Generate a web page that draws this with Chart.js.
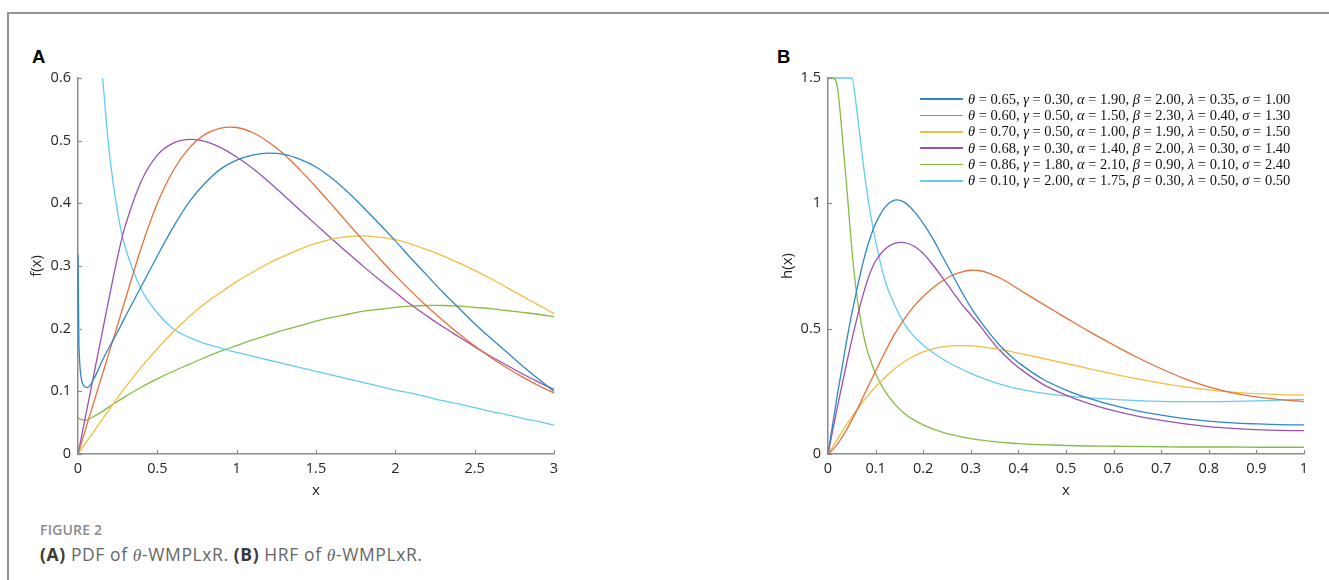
<!DOCTYPE html>
<html><head><meta charset="utf-8">
<script src="https://cdn.jsdelivr.net/npm/chart.js@4.4.1/dist/chart.umd.min.js"></script>
<style>
html,body{margin:0;padding:0;background:#fff;width:1329px;height:580px;overflow:hidden;position:relative;font-family:"Open Sans",sans-serif}
#frame{position:absolute;left:7px;top:12px;width:1400px;height:700px;border-left:2px solid #939393;border-top:2px solid #939393}
.pl{position:absolute;font:bold 18.5px "Liberation Sans",Arial,sans-serif;line-height:18px;color:#000}
canvas{position:absolute}
#legend{position:absolute;left:920px;top:91px;font-family:"Liberation Serif",serif;font-size:14.5px;color:#111}
.row{height:16.33px;display:flex;align-items:center;white-space:nowrap}
.sw{width:43px;height:1.4px;margin-right:5px;flex:none}
#cap1{position:absolute;left:40px;top:522.5px;font:600 14px "Open Sans",sans-serif;line-height:14px;color:#8a8a8a;letter-spacing:0.2px}
#cap2{position:absolute;left:40px;top:546.2px;font:17.5px "Open Sans",sans-serif;line-height:17.5px;color:#666;letter-spacing:0.6px}
#cap2 b{color:#3a3a3a}
.th{font-family:"Liberation Serif",serif;font-style:italic}
</style></head><body>
<div id="frame"></div>
<div class="pl" style="left:32px;top:48px">A</div>
<div class="pl" style="left:777px;top:48px">B</div>
<canvas id="cA" width="580" height="450" style="left:0;top:60px;width:580px;height:450px"></canvas>
<canvas id="cB" width="579" height="450" style="left:750px;top:60px;width:579px;height:450px"></canvas>
<div id="legend"></div>
<div id="cap1">FIGURE 2</div>
<div id="cap2"><b>(A)</b> PDF of <span class="th">θ</span>-WMPLxR. <b>(B)</b> HRF of <span class="th">θ</span>-WMPLxR.</div>
<script>
// ---------- data ----------
const seriesColors = ['#2f87c8', '#e6703a', '#f2bd42', '#9a52b0', '#86bb46', '#66cbf3'];
const legendLabels = [
  'θ = 0.65, γ = 0.30, α = 1.90, β = 2.00, λ = 0.35, σ = 1.00',
  'θ = 0.60, γ = 0.50, α = 1.50, β = 2.30, λ = 0.40, σ = 1.30',
  'θ = 0.70, γ = 0.50, α = 1.00, β = 1.90, λ = 0.50, σ = 1.50',
  'θ = 0.68, γ = 0.30, α = 1.40, β = 2.00, λ = 0.30, σ = 1.40',
  'θ = 0.86, γ = 1.80, α = 2.10, β = 0.90, λ = 0.10, σ = 2.40',
  'θ = 0.10, γ = 2.00, α = 1.75, β = 0.30, λ = 0.50, σ = 0.50'
];

// Panel A: PDF
const xA = [0,0.005,0.01,0.02,0.04,0.06,0.1,0.155,0.2,0.25,0.3,0.4,0.5,0.6,0.7,0.8,0.9,1.0,1.1,1.2,1.3,1.4,1.5,1.6,1.7,1.8,1.9,2.0,2.1,2.2,2.3,2.4,2.5,2.6,2.7,2.8,2.9,3.0];
const pdf1 = [0.318,0.19,0.15,0.122,0.108,0.106,0.12,0.15,0.172,0.195,0.22,0.268,0.316,0.362,0.402,0.432,0.455,0.469,0.477,0.48,0.478,0.47,0.458,0.44,0.418,0.393,0.367,0.34,0.312,0.285,0.258,0.233,0.208,0.185,0.163,0.141,0.12,0.1];
const pdf2 = [0,0.004,0.008,0.0165,0.033,0.05,0.083,0.128,0.165,0.206,0.248,0.33,0.4,0.452,0.488,0.51,0.52,0.521,0.513,0.498,0.478,0.453,0.426,0.3975,0.3685,0.34,0.312,0.285,0.2595,0.2355,0.213,0.192,0.1725,0.1545,0.138,0.123,0.1095,0.0975];
const pdf3 = [0,0.0018,0.0036,0.0072,0.0144,0.0216,0.036,0.056,0.072,0.09,0.107,0.139,0.168,0.195,0.219,0.24,0.258,0.275,0.29,0.304,0.316,0.327,0.336,0.343,0.347,0.348,0.346,0.342,0.335,0.326,0.316,0.305,0.293,0.28,0.266,0.252,0.238,0.224];
const pdf4 = [0,0.0064,0.0127,0.0254,0.051,0.076,0.127,0.197,0.254,0.315,0.366,0.436,0.477,0.496,0.502,0.499,0.489,0.474,0.456,0.435,0.412,0.389,0.366,0.343,0.321,0.299,0.278,0.258,0.238,0.22,0.203,0.187,0.171,0.156,0.142,0.128,0.115,0.103];
const pdf5 = [0.059,0.057,0.056,0.055,0.054,0.055,0.06,0.068,0.076,0.084,0.092,0.107,0.12,0.132,0.143,0.154,0.164,0.173,0.182,0.19,0.198,0.205,0.212,0.218,0.223,0.228,0.231,0.234,0.236,0.237,0.237,0.236,0.234,0.232,0.229,0.226,0.223,0.219];
const pdf6 = [null,null,null,null,null,null,null,0.6,0.475,0.385,0.328,0.262,0.225,0.2,0.186,0.176,0.169,0.162,0.156,0.15,0.144,0.138,0.132,0.126,0.12,0.114,0.108,0.102,0.097,0.091,0.085,0.08,0.074,0.068,0.063,0.057,0.052,0.046];
const xTicksA = [0,0.5,1,1.5,2,2.5,3];
const xTickLabelsA = ['0','0.5','1','1.5','2','2.5','3'];
const yTicksA = [0,0.1,0.2,0.3,0.4,0.5,0.6];
const yTickLabelsA = ['0','0.1','0.2','0.3','0.4','0.5','0.6'];

// Panel B: HRF
const xB = [0,0.01,0.02,0.03,0.04,0.05,0.06,0.07,0.08,0.09,0.1,0.12,0.14,0.16,0.18,0.2,0.22,0.24,0.26,0.28,0.3,0.32,0.34,0.36,0.38,0.4,0.45,0.5,0.55,0.6,0.65,0.7,0.75,0.8,0.85,0.9,0.95,1.0];
const hrf1 = [0,0.12,0.24,0.35,0.46,0.56,0.65,0.735,0.81,0.87,0.92,0.985,1.013,1.005,0.97,0.92,0.86,0.79,0.72,0.65,0.585,0.53,0.48,0.435,0.398,0.365,0.3,0.255,0.221,0.194,0.172,0.155,0.141,0.131,0.124,0.12,0.117,0.116];
const hrf2 = [0,0.018,0.04,0.068,0.1,0.135,0.172,0.212,0.252,0.292,0.33,0.408,0.478,0.538,0.588,0.628,0.662,0.69,0.712,0.726,0.733,0.731,0.72,0.703,0.682,0.658,0.6,0.543,0.487,0.435,0.385,0.34,0.3,0.268,0.244,0.228,0.217,0.209];
const hrf3 = [0,0.03,0.06,0.09,0.12,0.148,0.175,0.2,0.224,0.247,0.268,0.306,0.34,0.368,0.39,0.407,0.419,0.427,0.431,0.432,0.431,0.428,0.423,0.417,0.41,0.402,0.382,0.361,0.34,0.319,0.3,0.283,0.268,0.256,0.247,0.241,0.237,0.235];
const hrf4 = [0,0.095,0.19,0.28,0.37,0.455,0.535,0.61,0.675,0.73,0.77,0.818,0.84,0.843,0.83,0.8,0.755,0.705,0.652,0.6,0.555,0.51,0.46,0.415,0.378,0.345,0.28,0.235,0.2,0.173,0.151,0.134,0.12,0.109,0.102,0.097,0.094,0.093];
const hrf5 = [1.5,1.5,1.46,1.27,1.05,0.82,0.64,0.52,0.43,0.37,0.32,0.25,0.2,0.163,0.136,0.116,0.1,0.087,0.077,0.068,0.061,0.056,0.051,0.047,0.044,0.041,0.037,0.034,0.032,0.031,0.03,0.029,0.028,0.028,0.028,0.027,0.027,0.027];
const hrf6 = [1.5,1.5,1.5,1.5,1.5,1.5,1.38,1.22,1.07,0.95,0.85,0.69,0.595,0.52,0.47,0.435,0.405,0.38,0.358,0.339,0.322,0.306,0.292,0.28,0.269,0.26,0.243,0.232,0.224,0.218,0.213,0.21,0.209,0.209,0.21,0.212,0.215,0.218];
const xTicksB = [0,0.1,0.2,0.3,0.4,0.5,0.6,0.7,0.8,0.9,1];
const xTickLabelsB = ['0','0.1','0.2','0.3','0.4','0.5','0.6','0.7','0.8','0.9','1'];
const yTicksB = [0,0.5,1,1.5];
const yTickLabelsB = ['0','0.5','1','1.5'];

// ---------- styling ----------
// curve smoothing per series (monotone where the curve has a spike or a capped plateau)
const smoothA = ['monotone', 'default', 'default', 'default', 'default', 'default'];
const smoothB = ['default', 'default', 'default', 'default', 'monotone', 'monotone'];
const AXIS = '#8c8c8c';
const TICKFONT = {family: '"Open Sans", sans-serif', size: 14.5};
const TITLEFONT = {family: '"Open Sans", sans-serif', size: 15};

const inwardTicks = {
  id: 'inwardTicks',
  afterDatasetsDraw(chart) {
    const {ctx, chartArea: a, scales: {x, y}} = chart;
    ctx.save();
    ctx.strokeStyle = AXIS;
    ctx.lineWidth = 1.2;
    x.ticks.forEach(t => {
      const px = Math.round(x.getPixelForValue(t.value)) + 0.5;
      ctx.beginPath(); ctx.moveTo(px, a.bottom); ctx.lineTo(px, a.bottom - 4); ctx.stroke();
    });
    y.ticks.forEach(t => {
      const py = Math.round(y.getPixelForValue(t.value)) + 0.5;
      ctx.beginPath(); ctx.moveTo(a.left, py); ctx.lineTo(a.left + 4, py); ctx.stroke();
    });
    ctx.restore();
  }
};

function makeChart(id, xs, series, modes, xr, yr, xt, xtl, yt, ytl, yTitle, yTitlePad, padRight) {
  const datasets = series.map((s, i) => ({
    data: xs.map((x, j) => ({x: x, y: s[j]})),
    borderColor: seriesColors[i],
    borderWidth: 1.3,
    pointRadius: 0,
    fill: false,
    cubicInterpolationMode: modes[i],
    tension: 0.35,
    clip: 2
  }));
  return new Chart(document.getElementById(id), {
    type: 'line',
    data: {datasets},
    plugins: [inwardTicks],
    options: {
      responsive: false,
      animation: false,
      devicePixelRatio: 1,
      layout: {padding: {left: 0, top: 18, right: padRight, bottom: 0}},
      plugins: {legend: {display: false}, tooltip: {enabled: false}},
      scales: {
        x: {
          type: 'linear', min: xr[0], max: xr[1],
          grid: {display: false, drawTicks: false},
          border: {display: true, color: AXIS, width: 1.5},
          afterBuildTicks: s => { s.ticks = xt.map(v => ({value: v})); },
          afterFit: s => { s.height = 56; },
          ticks: {font: TICKFONT, color: '#262626', padding: 6, maxRotation: 0, autoSkip: false,
                  callback: (v, i) => xtl[i]},
          title: {display: true, text: 'x', font: TITLEFONT, color: '#262626', padding: {top: 0, bottom: 10}}
        },
        y: {
          type: 'linear', min: yr[0], max: yr[1],
          grid: {display: false, drawTicks: false},
          border: {display: true, color: AXIS, width: 1.5},
          afterBuildTicks: s => { s.ticks = yt.map(v => ({value: v})); },
          afterFit: s => { s.width = 78; },
          ticks: {font: TICKFONT, color: '#262626', padding: 7, autoSkip: false,
                  callback: (v, i) => ytl[i]},
          title: {display: true, text: yTitle, font: TITLEFONT, color: '#262626', padding: {top: yTitlePad, bottom: 0}}
        }
      }
    }
  });
}

makeChart('cA', xA, [pdf1, pdf2, pdf3, pdf4, pdf5, pdf6], smoothA, [0, 3], [0, 0.6],
          xTicksA, xTickLabelsA, yTicksA, yTickLabelsA, 'f(x)', 27.5, 26);
makeChart('cB', xB, [hrf1, hrf2, hrf3, hrf4, hrf5, hrf6], smoothB, [0, 1], [0, 1.5],
          xTicksB, xTickLabelsB, yTicksB, yTickLabelsB, 'h(x)', 29, 25);

// legend (HTML, built from the label and colour arrays)
const lg = document.getElementById('legend');
legendLabels.forEach((t, i) => {
  const row = document.createElement('div');
  row.className = 'row';
  const sw = document.createElement('span');
  sw.className = 'sw';
  sw.style.background = seriesColors[i];
  row.appendChild(sw);
  const tx = document.createElement('span');
  tx.innerHTML = t.replace(/([θγαβλσ])/g, '<i>$1</i>');
  row.appendChild(tx);
  lg.appendChild(row);
});
</script>
</body></html>
